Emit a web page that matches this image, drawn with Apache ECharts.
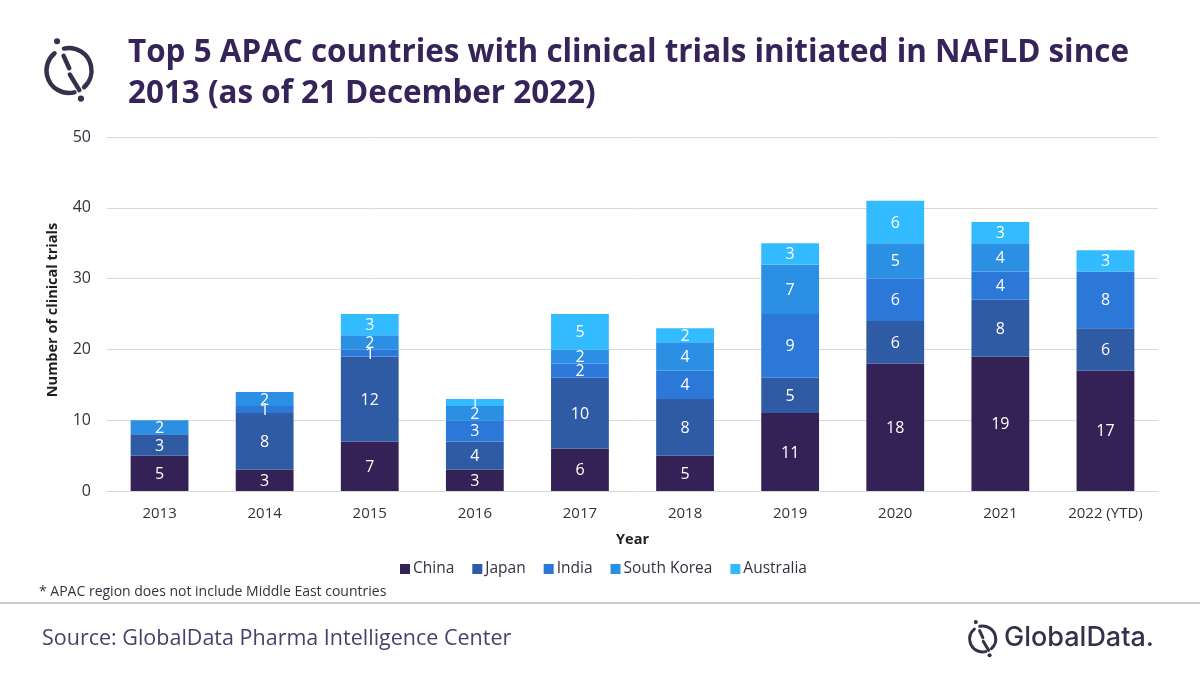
<!DOCTYPE html>
<html>
<head>
<meta charset="utf-8">
<style>
  html, body { margin: 0; padding: 0; background: #fff; }
  #chart { width: 1200px; height: 675px; }
</style>
<script src="https://cdn.jsdelivr.net/npm/echarts@6/dist/echarts.min.js"></script>
</head>
<body>
<div id="chart"></div>
<script>
  var FONT = "'Open Sans', sans-serif";
  var INK = "#35235a";
  var LOGO = "#34324a";

  var years = ["2013", "2014", "2015", "2016", "2017", "2018", "2019", "2020", "2021", "2022 (YTD)"];
  var china = [5, 3, 7, 3, 6, 5, 11, 18, 19, 17];
  var japan = [3, 8, 12, 4, 10, 8, 5, 6, 8, 6];
  var india = [null, 1, 1, 3, 2, 4, 9, 6, 4, 8];
  var southKorea = [2, 2, 2, 2, 2, 4, 7, 5, 4, null];
  var australia = [null, null, 3, 1, 5, 2, 3, 6, 3, 3];

  var seriesNames = ["China", "Japan", "India", "South Korea", "Australia"];
  var seriesColors = ["#342156", "#2f5ba5", "#2b78d8", "#2b90e4", "#33bbff"];

  function stacked(name, values, color) {
    return {
      name: name,
      type: "bar",
      stack: "total",
      barWidth: "55%",
      data: values,
      itemStyle: { color: color },
      label: { show: true, position: "inside", offset: [0, 1], color: "#fff", fontFamily: FONT, fontSize: 16 }
    };
  }

  // logo: broken ring, slashed stem and two dots
  function logo(cx, cy, r, w) {
    var rad = Math.PI / 180;
    function arc(a, b) {
      return { type: "arc", shape: { cx: cx, cy: cy, r: r, startAngle: a * rad, endAngle: b * rad }, style: { stroke: LOGO, fill: null, lineWidth: w, lineCap: "round" } };
    }
    function seg(x1, y1, x2, y2) {
      return { type: "line", shape: { x1: cx + x1 * r, y1: cy + y1 * r, x2: cx + x2 * r, y2: cy + y2 * r }, style: { stroke: LOGO, lineWidth: w, lineCap: "round" } };
    }
    function dot(x, y) {
      return { type: "circle", shape: { cx: cx + x * r, cy: cy + y * r, r: w * 0.68 }, style: { fill: LOGO } };
    }
    return [
      arc(-103, 48), arc(76, 230),
      seg(-0.24, -0.65, 0.01, -0.1), seg(0.04, 0.18, 0.46, 0.875),
      dot(-0.53, -1.3), dot(0.53, 1.25)
    ];
  }

  var chart = echarts.init(document.getElementById("chart"));
  chart.setOption({
    backgroundColor: "#fff",
    animation: false,
    textStyle: { fontFamily: FONT },
    title: {
      text: "Top 5 APAC countries with clinical trials initiated in NAFLD since\n2013 (as of 21 December 2022)",
      left: 123, top: 28,
      textStyle: { color: INK, fontFamily: FONT, fontSize: 31.4, fontWeight: 700, lineHeight: 41 }
    },
    grid: { left: 107, right: 42, top: 137, bottom: 184 },
    legend: {
      data: seriesNames,
      left: 395, top: 556,
      itemWidth: 10, itemHeight: 10, itemGap: 18,
      icon: "rect",
      textStyle: { color: "#33323f", fontFamily: FONT, fontSize: 15.5, padding: [0, 0, 0, -2] }
    },
    xAxis: {
      type: "category",
      data: years,
      name: "Year",
      nameLocation: "middle",
      nameGap: 41,
      nameTextStyle: { color: "#1f1f1f", fontFamily: FONT, fontSize: 14.5, fontWeight: 700 },
      axisLine: { lineStyle: { color: "#d9d9d9" } },
      axisTick: { show: false },
      axisLabel: { color: "#33323f", fontFamily: FONT, fontSize: 15, margin: 15 }
    },
    yAxis: {
      type: "value",
      min: 0, max: 50, interval: 10,
      name: "Number of clinical trials",
      nameLocation: "middle",
      nameGap: 47,
      nameTextStyle: { color: "#1f1f1f", fontFamily: FONT, fontSize: 14.5, fontWeight: 700, padding: [0, 0, 0, 8] },
      axisLine: { show: false },
      axisTick: { show: false },
      axisLabel: { color: "#33323f", fontFamily: FONT, fontSize: 16, margin: 16 },
      splitLine: { lineStyle: { color: "#d9d9d9" } }
    },
    series: seriesNames.map(function (n, i) {
      return stacked(n, [china, japan, india, southKorea, australia][i], seriesColors[i]);
    }),
    graphic: logo(69, 70.5, 22.5, 4.5).concat(logo(982.7, 639, 13, 3)).concat([
      { type: "text", left: 39, top: 585, style: { text: "* APAC region does not include Middle East countries", fill: "#33323f", font: "14px " + FONT } },
      { type: "line", shape: { x1: 0, y1: 603, x2: 1200, y2: 603 }, style: { stroke: "#bdbdbd", lineWidth: 1.5 } },
      { type: "text", left: 42, top: 628, style: { text: "Source: GlobalData Pharma Intelligence Center", fill: "#4a3f6b", font: "21.5px " + FONT } },
      { type: "text", left: 1004, top: 624, style: { text: "GlobalData.", fill: LOGO, font: "500 27px Inter, sans-serif" } }
    ])
  });
</script>
</body>
</html>
